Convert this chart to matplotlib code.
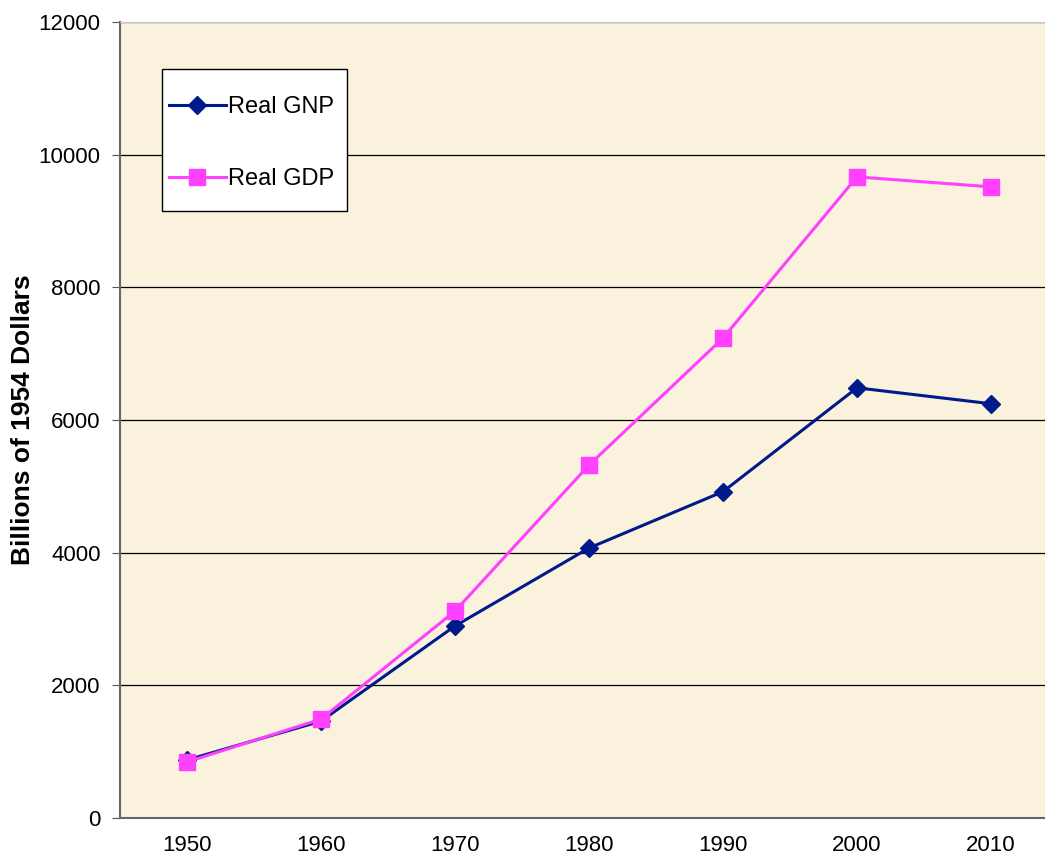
import matplotlib
matplotlib.use("Agg")
import matplotlib.pyplot as plt
from matplotlib.patches import Rectangle

years = ["1950", "1960", "1970", "1980", "1990", "2000", "2010"]
real_gnp = [875, 1460, 2895, 4070, 4920, 6485, 6245]
real_gdp = [845, 1490, 3120, 5320, 7235, 9665, 9515]
y_ticks = [0, 2000, 4000, 6000, 8000, 10000, 12000]

plt.rcParams['font.family'] = ['Liberation Sans', 'DejaVu Sans']

fig = plt.figure(figsize=(10.45, 8.56), dpi=100)
ax = fig.add_axes([120/1045, 38/856, 938/1045, 796/856])
ax.set_facecolor('#FBF2DD')

x = list(range(len(years)))
ax.plot(x, real_gnp, color='#001A8C', lw=2.2, marker='D', ms=9,
        mfc='#001A8C', mec='#001A8C', label='Real GNP', zorder=3)
ax.plot(x, real_gdp, color='#FF40FF', lw=2.2, marker='s', ms=11,
        mfc='#FF40FF', mec='#FF40FF', label='Real GDP', zorder=3)

ax.set_xlim(-0.5, 6.5)
ax.set_ylim(0, 12000)
ax.set_xticks(x)
ax.set_xticklabels(years)
ax.set_yticks(y_ticks)
ax.tick_params(axis='x', length=0, labelsize=16, pad=12)
ax.tick_params(axis='y', length=6, labelsize=16, direction='out', color='#555555', pad=8)
ax.yaxis.grid(True, color='black', lw=0.9)
ax.set_axisbelow(True)
for s in ['left', 'bottom']:
    ax.spines[s].set_color('#666666')
    ax.spines[s].set_linewidth(1.5)
ax.spines['top'].set_color('#C8C8C8')
ax.spines['right'].set_visible(False)

ax.set_ylabel('Billions of 1954 Dollars', fontsize=19, fontweight='bold')
ax.yaxis.set_label_coords(-85/938, 0.5)

# legend frame (drawn separately for unequal horizontal/vertical padding)
def ax_x(px):
    return (px - 120) / 938
def ax_y(py):
    return (818 - py) / 796

frame = Rectangle((ax_x(162), ax_y(211)), ax_x(347) - ax_x(162), ax_y(69) - ax_y(211),
                  transform=ax.transAxes, facecolor='white', edgecolor='black',
                  lw=1.0, zorder=4)
ax.add_patch(frame)

leg = ax.legend(loc='upper left', bbox_to_anchor=(ax_x(169), ax_y(96)), fontsize=17,
                frameon=False, labelspacing=2.13, handlelength=2.4,
                handletextpad=0.1, borderpad=0, borderaxespad=0)
leg.set_zorder(5)

fig.savefig('out.png', dpi=100)
